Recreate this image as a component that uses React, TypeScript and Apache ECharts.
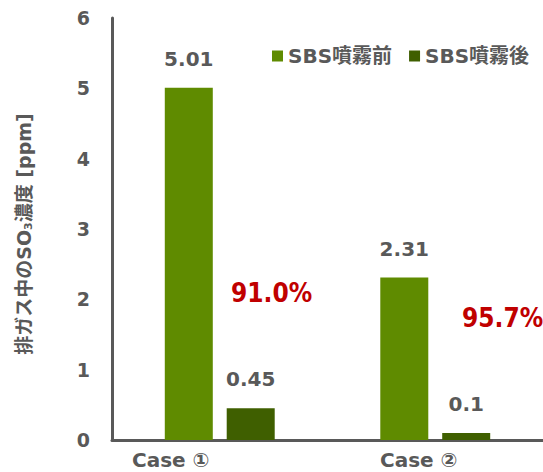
import React, { useEffect, useRef } from "react";
import * as echarts from "echarts";

const categories = ["Case ①", "Case ②"];
const beforeValues = [5.01, 2.31];
const afterValues = [0.45, 0.1];
const reductions = ["91.0%", "95.7%"];
const seriesNames = ["SBS噴霧前", "SBS噴霧後"];

const FONT = "'DejaVu Sans', 'Noto Sans CJK JP', sans-serif";
const RED_FONT = "'DejaVu Sans Condensed', 'Liberation Sans', sans-serif";
const GRAY = "#595959";

export default function App() {
  const ref = useRef<HTMLDivElement>(null);
  useEffect(() => {
    document.body.style.margin = "0";
    const chart = echarts.init(ref.current!, null, { renderer: "svg" });
    const option: any = {
      animation: false,
      textStyle: { fontFamily: FONT },
      grid: { left: 112, right: -5, top: 18, bottom: 32, containLabel: false },
      legend: {
        data: seriesNames,
        left: 267,
        top: 41,
        itemWidth: 11,
        itemHeight: 11,
        itemGap: 17,
        icon: "rect",
        textStyle: { fontFamily: FONT, fontWeight: "bold", fontSize: 20, color: GRAY },
      },
      xAxis: {
        type: "category",
        data: categories,
        axisLine: { lineStyle: { color: GRAY, width: 3 } },
        axisTick: { show: false },
        axisLabel: {
          margin: 10,
          lineHeight: 20,
          formatter: (v: string, i: number) => (i === 0 ? `{a|${v}}` : `{b|${v}}`),
          rich: {
            a: { fontFamily: FONT, fontWeight: "bold", fontSize: 20, lineHeight: 20, color: GRAY, padding: [0, 98, 0, 0] },
            b: { fontFamily: FONT, fontWeight: "bold", fontSize: 20, lineHeight: 20, color: GRAY, padding: [0, 33, 0, 0] },
          },
        },
      },
      yAxis: {
        type: "value",
        min: 0,
        max: 6,
        interval: 1,
        splitLine: { show: false },
        axisTick: { show: false },
        axisLine: { show: true, lineStyle: { color: GRAY, width: 3 } },
        axisLabel: { margin: 22, fontFamily: FONT, fontWeight: "bold", fontSize: 19, color: GRAY },
        name: "排ガス中のSO{sub|3}濃度 [ppm]",
        nameLocation: "middle",
        nameRotate: 90,
        nameGap: 78,
        nameTextStyle: {
          fontFamily: FONT,
          fontWeight: "bold",
          fontSize: 19,
          color: GRAY,
          padding: [0, 10, 0, 0],
          rich: {
            sub: { fontFamily: FONT, fontWeight: "bold", fontSize: 11, color: GRAY, verticalAlign: "bottom", padding: [9, 0, 0, 0] },
          },
        },
      },
      series: [
        {
          name: seriesNames[0],
          type: "bar",
          data: beforeValues,
          barWidth: 48,
          barGap: "29%",
          itemStyle: { color: "#5F8B00" },
          label: {
            show: true,
            position: "top",
            distance: 19,
            fontFamily: FONT,
            fontWeight: "bold",
            fontSize: 20,
            color: GRAY,
          },
        },
        {
          name: seriesNames[1],
          type: "bar",
          data: afterValues,
          barWidth: 48,
          itemStyle: { color: "#3F5F00" },
          label: {
            show: true,
            position: "top",
            distance: 19,
            fontFamily: FONT,
            fontWeight: "bold",
            fontSize: 20,
            color: GRAY,
          },
        },
      ],
      graphic: [
        {
          type: "text",
          left: 231,
          top: 280,
          style: { text: reductions[0], fontFamily: RED_FONT, fontWeight: "bold", fontSize: 26, fill: "#C00000" },
        },
        {
          type: "text",
          left: 462,
          top: 305,
          style: { text: reductions[1], fontFamily: RED_FONT, fontWeight: "bold", fontSize: 26, fill: "#C00000" },
        },
      ],
    };
    chart.setOption(option);
    return () => chart.dispose();
  }, []);
  return <div ref={ref} style={{ width: 543, height: 472, position: "absolute", left: 0, top: 0 }} />;
}
